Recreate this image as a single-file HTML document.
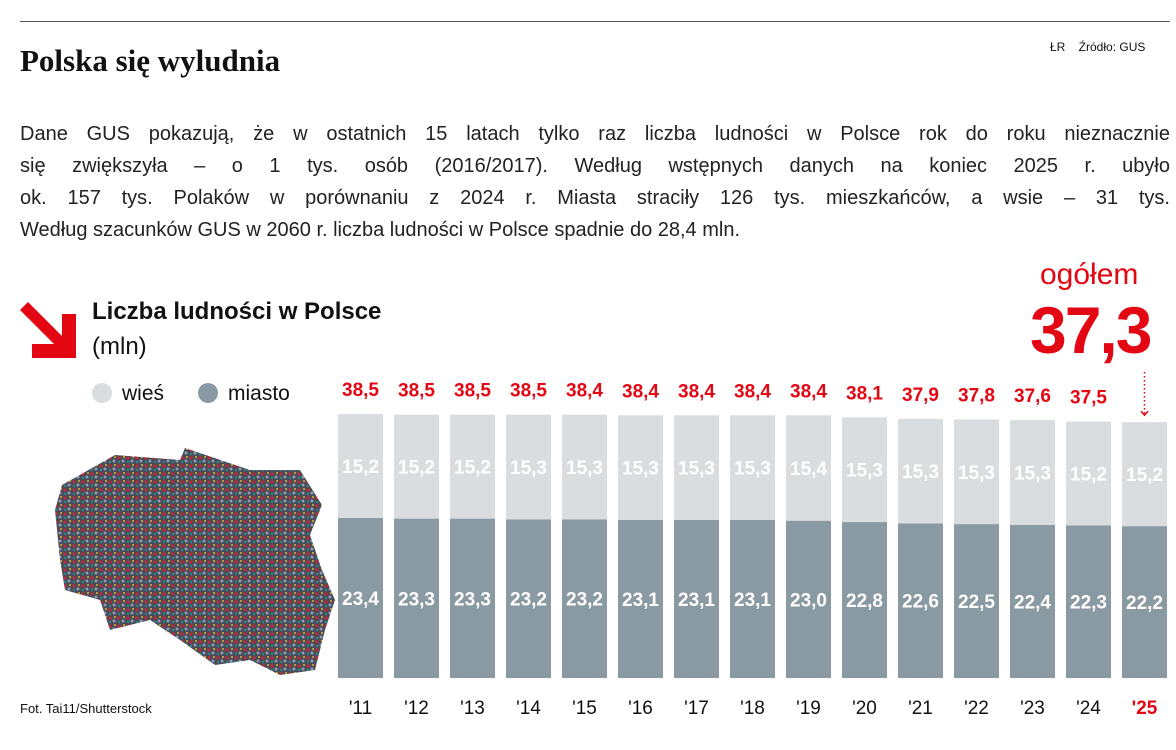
<!DOCTYPE html>
<html><head><meta charset="utf-8"><style>
body{margin:0;width:1176px;height:750px;background:#fff;font-family:"Liberation Sans",sans-serif;overflow:hidden;position:relative}
.a{position:absolute}
.ln{text-align:justify;text-align-last:justify;white-space:nowrap;height:32px}
</style></head><body>
<div class="a" style="left:20px;top:21px;width:1150px;height:1px;background:#555"></div>
<div class="a" style="left:20px;top:43px;font-family:'Liberation Serif',serif;font-weight:bold;font-size:31px;color:#111">Polska się wyludnia</div>
<div class="a" style="left:1050px;top:40px;font-size:12px;color:#111">ŁR&nbsp;&nbsp;&nbsp; Źródło: GUS</div>
<div class="a" style="left:20px;top:118px;width:1150px;font-size:20px;line-height:32px;color:#222">
<div class="ln" style="white-space:normal">Dane GUS pokazują, że w ostatnich 15 latach tylko raz liczba ludności w Polsce rok do roku nieznacznie</div>
<div class="ln" style="white-space:normal">się zwiększyła – o 1 tys. osób (2016/2017). Według wstępnych danych na koniec 2025 r. ubyło</div>
<div class="ln" style="white-space:normal">ok. 157 tys. Polaków w porównaniu z 2024 r. Miasta straciły 126 tys. mieszkańców, a wsie – 31 tys.</div>
<div style="white-space:nowrap">Według szacunków GUS w 2060 r. liczba ludności w Polsce spadnie do 28,4 mln.</div>
</div>
<svg class="a" style="left:20px;top:302px" width="58" height="58"><polygon points="0,8 8,0 42,34 42,12 56,12 56,56 12,56 12,42 34,42" fill="#e30613"/></svg>
<div class="a" style="left:92px;top:298px;font-size:24px;font-weight:bold;color:#111">Liczba ludności w Polsce</div>
<div class="a" style="left:92px;top:333px;font-size:24px;color:#111">(mln)</div>
<div class="a" style="left:92px;top:382px;font-size:21px;color:#111"><span style="display:inline-block;width:20px;height:20px;border-radius:50%;background:#d9dde0;vertical-align:-3px;margin-right:10px"></span>wieś</div>
<div class="a" style="left:198px;top:382px;font-size:21px;color:#111"><span style="display:inline-block;width:20px;height:20px;border-radius:50%;background:#8a9aa3;vertical-align:-3px;margin-right:10px"></span>miasto</div>
<svg class="a" style="left:0;top:420px" width="340" height="280">
<defs><pattern id="p" width="9" height="8" patternUnits="userSpaceOnUse"><rect width="9" height="8" fill="#4a4d58"/><circle cx="2" cy="2" r="1.6" fill="#c2263c"/><circle cx="6" cy="5" r="1.5" fill="#8a9eb8"/><circle cx="7" cy="1" r="1" fill="#e8b22a"/><circle cx="2" cy="6" r="1.2" fill="#2a8a8e"/></pattern></defs>
<polygon transform="translate(0,-420)" fill="url(#p)" points="55,510 62,485 115,455 180,460 185,448 250,470 300,470 322,505 310,535 322,570 335,600 325,630 315,670 280,675 250,660 215,665 180,640 150,620 110,630 100,600 65,590 60,560"/>
</svg>
<div class="a" style="left:20px;top:701px;font-size:13px;color:#111">Fot. Tai11/Shutterstock</div>
<div class="a" style="left:1040px;top:258px;font-size:30px;color:#e30613">ogółem</div>
<div class="a" style="left:1030px;top:292px;font-size:66px;font-weight:bold;color:#e30613;letter-spacing:-2px">37,3</div>
<svg class="a" style="left:0;top:0" width="1176" height="750" id="ch"></svg>
<script>
const years=["'11","'12","'13","'14","'15","'16","'17","'18","'19","'20","'21","'22","'23","'24","'25"];
const totals=["38,5","38,5","38,5","38,5","38,4","38,4","38,4","38,4","38,4","38,1","37,9","37,8","37,6","37,5",""];
const wies=[15.2,15.2,15.2,15.3,15.3,15.3,15.3,15.3,15.4,15.3,15.3,15.3,15.3,15.2,15.2];
const miasto=[23.4,23.3,23.3,23.2,23.2,23.1,23.1,23.1,23.0,22.8,22.6,22.5,22.4,22.3,22.2];
const svg=document.getElementById('ch');const NS='http://www.w3.org/2000/svg';
const base=678,k=6.84;
const xs=i=>338+i*56, ys=v=>v*k;
function el(t,a,txt){const e=document.createElementNS(NS,t);for(const n in a)e.setAttribute(n,a[n]);if(txt!==undefined)e.textContent=txt;svg.appendChild(e);return e;}
const fmt=v=>v.toFixed(1).replace('.',',');
years.forEach((y,i)=>{
 const x=xs(i),hm=ys(miasto[i]),hw=ys(wies[i]);
 let e=el('rect',{x:x,y:base-hm,width:45,height:hm,fill:'#8a9aa3'});
 
 
 e=el('rect',{x:x,y:base-hm-hw,width:45,height:hw,fill:'#d9dde0'});
 
 
 e=el('text',{x:x+22.5,y:base-hm/2+7,'text-anchor':'middle','font-size':19,'font-weight':'bold',fill:'#fff','font-family':'Liberation Sans'},fmt(miasto[i]));
 
 
 e=el('text',{x:x+22.5,y:base-hm-hw/2+7,'text-anchor':'middle','font-size':19,'font-weight':'bold',fill:'#fff','font-family':'Liberation Sans'},fmt(wies[i]));
 
 
 if(totals[i]){e=el('text',{x:x+22.5,y:base-hm-hw-18,'text-anchor':'middle','font-size':19,'font-weight':'bold',fill:'#e30613','font-family':'Liberation Sans'},totals[i]);
 
 }
 else{e=el('line',{x1:x+22.5,y1:372,x2:x+22.5,y2:base-hm-hw-8,stroke:'#e30613','stroke-dasharray':'1.5,2.5','stroke-width':1.5});
 
 
 el('polyline',{points:`${x+19},${base-hm-hw-11} ${x+22.5},${base-hm-hw-7} ${x+26},${base-hm-hw-11}`,fill:'none',stroke:'#e30613','stroke-width':1.5});}
 e=el('text',{x:x+22.5,y:714,'text-anchor':'middle','font-size':19,fill:i==14?'#e30613':'#111','font-weight':i==14?'bold':'normal','font-family':'Liberation Sans'},y);
 
 
});
</script>
</body></html>
